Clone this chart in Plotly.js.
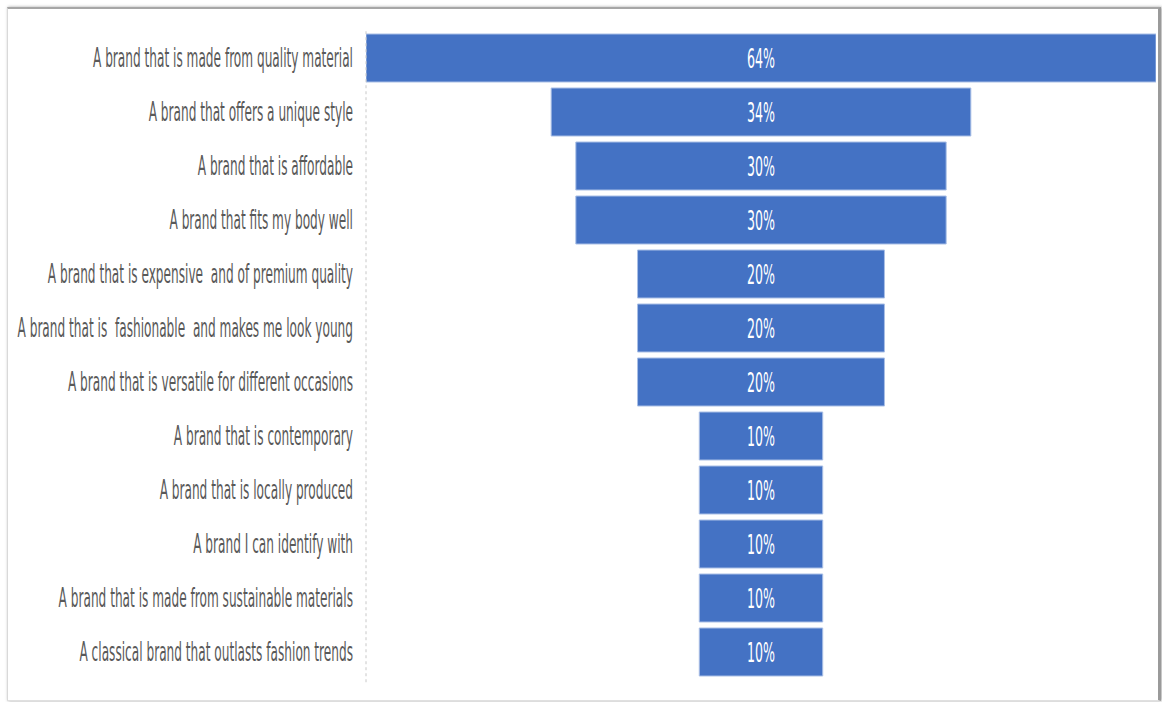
<!DOCTYPE html>
<html>
<head>
<meta charset="utf-8">
<script src="https://cdn.plot.ly/plotly-3.0.1.min.js"></script>
<style>
  html, body { margin: 0; padding: 0; background: #ffffff; }
  #frame { position: absolute; left: 7px; top: 7px; width: 1150px; height: 691px;
           border-top: 2px solid #a6a6a6; border-left: 1px solid #d9d9d9; border-bottom: 1px solid #e0e0e0;
           border-right: 3px solid #9a9a9a; box-shadow: 1px 0 3px rgba(0,0,0,0.35); }
  #chart { position: absolute; left: 0; top: 0; width: 1162px; height: 702px; }
</style>
</head>
<body>
<div id="frame"></div>
<div id="chart"></div>
<script>
const categories = [
  "A brand that is made from quality material",
  "A brand that offers a unique style",
  "A brand that is affordable",
  "A brand that fits my body well",
  "A brand that is expensive  and of premium quality",
  "A brand that is  fashionable  and makes me look young",
  "A brand that is versatile for different occasions",
  "A brand that is contemporary",
  "A brand that is locally produced",
  "A brand I can identify with",
  "A brand that is made from sustainable materials",
  "A classical brand that outlasts fashion trends"
];
const percentValues = [64, 34, 30, 30, 20, 20, 20, 10, 10, 10, 10, 10];

const trace = {
  type: 'funnel',
  y: categories,
  x: percentValues,
  texttemplate: '%{x}%',
  textposition: 'inside',
  insidetextanchor: 'middle',
  textfont: { family: '"Liberation Sans Narrow", "DejaVu Sans Condensed", sans-serif', size: 14, color: '#ffffff' },
  marker: { color: '#4472C4', line: { color: '#a9bfe6', width: 1 } },
  connector: { visible: false },
  hoverinfo: 'none'
};

const layout = {
  width: 1162, height: 702,
  margin: { l: 366, r: 6, t: 31, b: 23 },
  paper_bgcolor: 'rgba(0,0,0,0)',
  plot_bgcolor: 'rgba(0,0,0,0)',
  funnelgap: 0.111,
  showlegend: false,
  xaxis: { range: [-32, 32], visible: false, showgrid: false, zeroline: false },
  yaxis: {
    type: 'category', autorange: 'reversed', showgrid: false, zeroline: false, showline: false,
    ticks: '', ticklabelstandoff: 12,
    tickfont: { family: '"Liberation Sans Narrow", "DejaVu Sans Condensed", sans-serif', size: 13.5, color: '#595959' }
  },
  shapes: [{
    type: 'line', xref: 'paper', yref: 'paper', x0: 0, x1: 0, y0: -0.005, y1: 1.002,
    line: { color: '#c8c8c8', width: 1, dash: 'dot' }
  }]
};

Plotly.newPlot('chart', [trace], layout, { displayModeBar: false, staticPlot: true }).then(gd => {
  const stretch = (sel, sy) => {
    gd.querySelectorAll(sel).forEach(t => {
      const bb = t.getBBox();
      const cy = bb.y + bb.height / 2;
      const prev = t.getAttribute('transform') || '';
      t.setAttribute('transform', prev + ' translate(0,' + cy + ') scale(1,' + sy + ') translate(0,' + (-cy) + ')');
    });
  };
  stretch('.ytick text', 1.95);
  stretch('.bartext', 1.9);
});
</script>
</body>
</html>
